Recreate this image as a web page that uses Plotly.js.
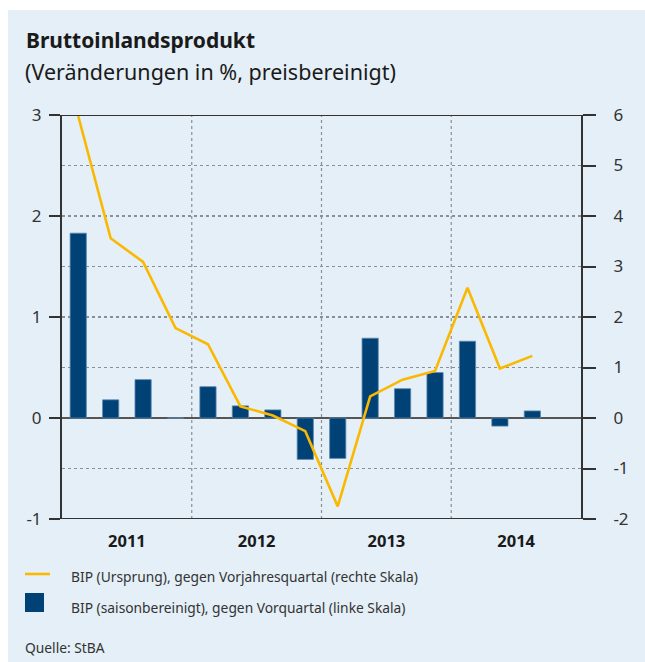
<!DOCTYPE html>
<html>
<head>
<meta charset="utf-8">
<script src="https://cdn.plot.ly/plotly-3.0.1.min.js"></script>
<style>
  html, body { margin: 0; padding: 0; background: #ffffff; }
  #chart { position: absolute; left: 8px; top: 10px; width: 637px; height: 652px; }
</style>
</head>
<body>
<div id="chart"></div>
<script>
// Data (quarters Q1 2011 .. Q3 2014)
const quarters = ["2011 Q1","2011 Q2","2011 Q3","2011 Q4",
                  "2012 Q1","2012 Q2","2012 Q3","2012 Q4",
                  "2013 Q1","2013 Q2","2013 Q3","2013 Q4",
                  "2014 Q1","2014 Q2","2014 Q3"];
const bipSaison = [1.83, 0.18, 0.38, 0.0,
                   0.31, 0.12, 0.08, -0.41,
                   -0.40, 0.79, 0.29, 0.45,
                   0.76, -0.08, 0.07];
const bipUrsprung = [5.98, 3.56, 3.09, 1.78,
                     1.46, 0.23, 0.05, -0.26,
                     -1.75, 0.43, 0.76, 0.93,
                     2.58, 0.98, 1.23];
const yearLabels = ["2011", "2012", "2013", "2014"];
const leftTicks = [-1, 0, 1, 2, 3];
const leftTickText = ["-1", "0", "1", "2", "3"];
const rightTicks = [-2, -1, 0, 1, 2, 3, 4, 5, 6];
const rightTickText = ["-2", "-1", "0", "1", "2", "3", "4", "5", "6"];
const legendLine = "BIP (Ursprung), gegen Vorjahresquartal (rechte Skala)";
const legendBar = "BIP (saisonbereinigt), gegen Vorquartal (linke Skala)";

const xIdx = quarters.map((q, i) => i);
const yearCenters = yearLabels.map((y, i) => i * 4 + 1.5);
const yearBounds = [3.5, 7.5, 11.5];

const W = 637, H = 652;
const M = { l: 54, r: 64, t: 105, b: 143 };
const pw = W - M.l - M.r, ph = H - M.t - M.b;
const px = x => (x - M.l) / pw;           // div px -> paper x
const py = y => 1 - (y - M.t) / ph;       // div px -> paper y

const font = "'Noto Sans', 'Open Sans', sans-serif";
const dark = "#333333";
const navy = "#004176";
const gold = "#fbb800";

const traces = [
  {
    type: "bar", x: xIdx, y: bipSaison, yaxis: "y",
    marker: { color: navy, line: { color: "#5b88ad", width: 0.8 } },
    width: 0.5, hoverinfo: "skip", showlegend: false
  },
  {
    type: "scatter", mode: "lines", x: xIdx, y: bipUrsprung, yaxis: "y2",
    line: { color: gold, width: 2.6 }, hoverinfo: "skip", showlegend: false
  }
];

const shapes = [];
yearBounds.forEach(b => shapes.push({
  type: "line", xref: "x", yref: "paper", x0: b, x1: b, y0: 0, y1: 1,
  line: { color: "#8a8f94", width: 1.2, dash: "dot" }, layer: "below"
}));
// top and bottom frame lines extending through tick marks
shapes.push({ type: "line", xref: "paper", yref: "y", x0: px(43), x1: px(586), y0: 3, y1: 3,
  line: { color: dark, width: 2 } });
shapes.push({ type: "line", xref: "paper", yref: "y", x0: px(43), x1: px(582), y0: -1, y1: -1,
  line: { color: dark, width: 2 } });
// legend symbols
shapes.push({ type: "line", xref: "paper", yref: "paper", x0: px(17), x1: px(42), y0: py(564), y1: py(564),
  line: { color: gold, width: 2.6 } });
shapes.push({ type: "rect", xref: "paper", yref: "paper", x0: px(17), x1: px(36), y0: py(583), y1: py(602),
  fillcolor: navy, line: { width: 0 } });

const annotations = [
  { text: "<b>Bruttoinlandsprodukt</b>", x: px(16), y: py(30), xanchor: "left", yanchor: "middle",
    font: { family: font, size: 21, color: "#1a1a1a" } },
  { text: "(Veränderungen in %, preisbereinigt)", x: px(15), y: py(62), xanchor: "left", yanchor: "middle",
    font: { family: font, size: 21.5, color: "#1a1a1a" } },
  { text: legendLine, x: px(61), y: py(566), xanchor: "left", yanchor: "middle",
    font: { family: font, size: 13.8, color: dark } },
  { text: legendBar, x: px(61), y: py(597), xanchor: "left", yanchor: "middle",
    font: { family: font, size: 13.8, color: dark } },
  { text: "Quelle: StBA", x: px(15), y: py(637), xanchor: "left", yanchor: "middle",
    font: { family: font, size: 13.8, color: dark } }
].map(a => Object.assign({ xref: "paper", yref: "paper", showarrow: false }, a));

const layout = {
  width: W, height: H,
  margin: M,
  paper_bgcolor: "#e4eff7",
  plot_bgcolor: "rgba(0,0,0,0)",
  showlegend: false,
  bargap: 0.5,
  font: { family: font, color: dark },
  xaxis: {
    range: [-0.5, 15.5], tickvals: yearCenters, ticktext: yearLabels.map(t => "<b>" + t + "</b>"),
    ticks: "", showgrid: false, zeroline: false, showline: false, ticklabelstandoff: 10,
    tickfont: { family: font, size: 16.5, color: "#1a1a1a" }, fixedrange: true
  },
  yaxis: {
    range: [-1, 3], tickvals: leftTicks, ticktext: leftTickText,
    ticks: "outside", ticklen: 11, tickwidth: 2, tickcolor: dark,
    showline: true, linecolor: dark, linewidth: 2, showgrid: false,
    zeroline: true, zerolinecolor: "#555555", zerolinewidth: 1.5, ticklabelstandoff: 4,
    tickfont: { family: font, size: 17, color: dark }, fixedrange: true
  },
  yaxis2: {
    range: [-2, 6], tickvals: rightTicks, ticktext: rightTickText, overlaying: "y", side: "right",
    ticks: "outside", ticklen: 13, tickwidth: 2, tickcolor: dark,
    showline: true, linecolor: dark, linewidth: 2,
    showgrid: true, gridcolor: "#8a8f94", gridwidth: 1.2, griddash: "dot",
    zeroline: false, ticklabelstandoff: 14,
    tickfont: { family: font, size: 17, color: dark }, fixedrange: true
  },
  shapes: shapes,
  annotations: annotations
};

Plotly.newPlot("chart", traces, layout, { displayModeBar: false, staticPlot: true });
</script>
</body>
</html>
